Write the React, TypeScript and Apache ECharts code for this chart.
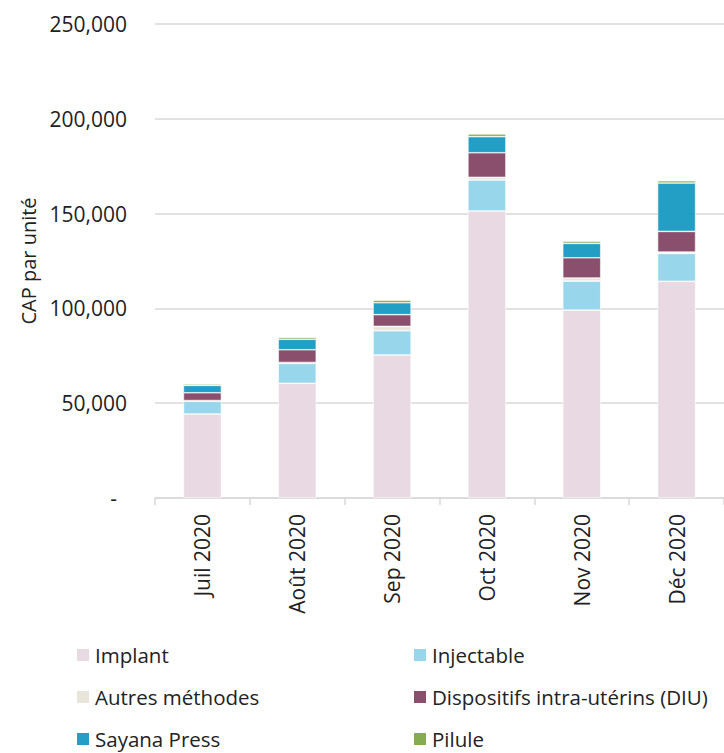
import React, { useEffect, useRef } from "react";
import * as echarts from "echarts";

const categories = ["Juil 2020", "Août 2020", "Sep 2020", "Oct 2020", "Nov 2020", "Déc 2020"];
const implant = [44300, 60500, 75400, 151400, 99100, 114300];
const injectable = [6700, 10500, 12800, 16300, 15300, 14700];
const autres = [400, 500, 2300, 1400, 1600, 700];
const diu = [4100, 6700, 6200, 13000, 10700, 10900];
const sayana = [3900, 5500, 6300, 8500, 7600, 25500];
const pilule = [700, 1000, 1300, 1400, 1100, 1200];

const seriesDefs = [
  { name: "Implant", data: implant, color: "#e8d9e3" },
  { name: "Injectable", data: injectable, color: "#98d6ec" },
  { name: "Autres méthodes", data: autres, color: "#e9e5db" },
  { name: "Dispositifs intra-utérins (DIU)", data: diu, color: "#8b4f6e" },
  { name: "Sayana Press", data: sayana, color: "#239ec4" },
  { name: "Pilule", data: pilule, color: "#86ac52" },
];

const FONT = "Open Sans";
const TXT = "#222222";

export default function App() {
  const ref = useRef<HTMLDivElement>(null);
  useEffect(() => {
    if (!ref.current) return;
    const chart = echarts.init(ref.current, null, { renderer: "svg" });
    const legendCommon = {
      orient: "vertical" as const,
      icon: "rect",
      itemWidth: 14,
      itemHeight: 14,
      itemGap: 18,
      padding: 0,
      height: 112,
      textStyle: { fontFamily: FONT, fontSize: 20.5, color: TXT, lineHeight: 24 },
      selectedMode: false,
    };
    chart.setOption({
      animation: false,
      grid: { left: 155, right: -4, top: 24, bottom: 255, containLabel: false },
      legend: [
        { ...legendCommon, left: 75, top: 643, data: ["Implant", "Autres méthodes", "Sayana Press"] },
        { ...legendCommon, left: 412, top: 643, data: ["Injectable", "Dispositifs intra-utérins (DIU)", "Pilule"] },
      ],
      xAxis: {
        type: "category",
        data: categories,
        axisLine: { lineStyle: { color: "#d9d9d9", width: 1.5 } },
        axisTick: { show: true, length: 7, lineStyle: { color: "#d9d9d9", width: 1.5 } },
        axisLabel: { rotate: 90, margin: 16, fontFamily: FONT, fontSize: 21, color: TXT },
      },
      yAxis: {
        type: "value",
        min: 0,
        max: 250000,
        interval: 50000,
        name: "CAP par unité",
        nameLocation: "middle",
        nameGap: 116,
        nameTextStyle: { fontFamily: FONT, fontSize: 20, color: TXT },
        axisLine: { show: false },
        axisTick: { show: false },
        splitLine: { lineStyle: { color: "#d9d9d9", width: 1.5 } },
        axisLabel: {
          margin: 28,
          fontFamily: FONT,
          fontSize: 21,
          color: TXT,
          formatter: (v: number) => (v === 0 ? "{d|-}" : v.toLocaleString("en-US")),
          rich: { d: { fontFamily: FONT, fontSize: 21, color: TXT, padding: [0, 10, 0, 0] } },
        },
      },
      series: seriesDefs.map((s) => ({
        name: s.name,
        type: "bar",
        stack: "total",
        data: s.data,
        barWidth: 38,
        itemStyle: { color: s.color, borderColor: "#ffffff", borderWidth: 0.6 },
      })),
    });
    return () => chart.dispose();
  }, []);
  return <div ref={ref} style={{ position: "absolute", left: 0, top: 0, width: 724, height: 753 }} />;
}
